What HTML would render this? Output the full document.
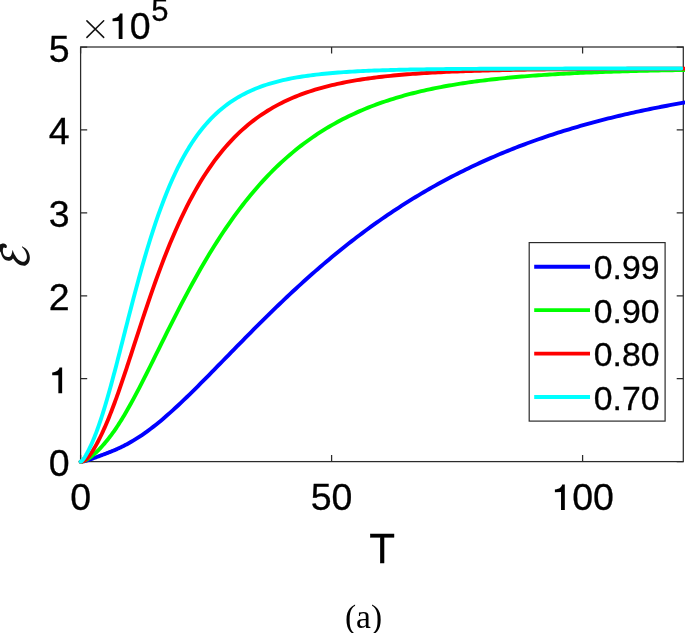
<!DOCTYPE html>
<html><head><meta charset="utf-8"><style>
html,body{margin:0;padding:0;background:#fff;}
body{width:685px;height:633px;overflow:hidden;position:relative;}
svg{position:absolute;left:0;top:0;will-change:transform;}
text{font-family:"Liberation Sans",sans-serif;fill:#000;stroke:#000;stroke-width:0.3px;}
</style></head><body>
<svg width="685" height="633" viewBox="0 0 685 633">
<rect x="80.6" y="47.0" width="602.70" height="414.60" fill="none" stroke="#2b2b2b" stroke-width="1.25"/>
<path d="M80.60,461.6V455.00M80.60,47.0V53.60M331.60,461.6V455.00M331.60,47.0V53.60M582.60,461.6V455.00M582.60,47.0V53.60M80.6,461.60H87.20M683.3,461.60H676.70M80.6,378.68H87.20M683.3,378.68H676.70M80.6,295.76H87.20M683.3,295.76H676.70M80.6,212.84H87.20M683.3,212.84H676.70M80.6,129.92H87.20M683.3,129.92H676.70M80.6,47.00H87.20M683.3,47.00H676.70" stroke="#2b2b2b" stroke-width="1.25" fill="none"/>
<path d="M80.60,461.60 L81.45,461.58 L82.30,461.51 L83.15,461.40 L84.00,461.25 L84.85,461.06 L85.71,460.85 L86.56,460.61 L87.41,460.35 L88.26,460.08 L89.11,459.79 L89.96,459.50 L90.81,459.20 L91.66,458.89 L92.51,458.59 L93.36,458.27 L94.21,457.96 L95.06,457.65 L95.92,457.33 L96.77,457.02 L97.62,456.70 L98.47,456.39 L99.32,456.07 L100.17,455.75 L101.02,455.44 L101.87,455.12 L102.72,454.80 L103.57,454.48 L104.42,454.16 L105.27,453.84 L106.13,453.51 L106.98,453.18 L107.83,452.85 L108.68,452.52 L109.53,452.18 L110.38,451.84 L111.23,451.50 L112.08,451.15 L112.93,450.80 L113.78,450.44 L114.63,450.08 L115.48,449.71 L116.34,449.34 L117.19,448.96 L118.04,448.58 L118.89,448.19 L119.74,447.79 L120.59,447.39 L121.44,446.98 L122.29,446.57 L123.14,446.15 L123.99,445.72 L124.84,445.29 L125.69,444.85 L126.55,444.40 L127.40,443.94 L128.25,443.48 L129.10,443.01 L129.95,442.54 L130.80,442.05 L133.59,440.42 L136.38,438.71 L139.18,436.92 L141.97,435.06 L144.76,433.13 L147.55,431.12 L150.35,429.05 L153.14,426.91 L155.93,424.71 L158.72,422.44 L161.52,420.13 L164.31,417.75 L167.10,415.33 L169.89,412.87 L172.69,410.35 L175.48,407.80 L178.27,405.21 L181.06,402.59 L183.86,399.93 L186.65,397.25 L189.44,394.54 L192.23,391.80 L195.03,389.04 L197.82,386.27 L200.61,383.47 L203.40,380.67 L206.20,377.85 L208.99,375.01 L211.78,372.17 L214.57,369.33 L217.37,366.47 L220.16,363.61 L222.95,360.75 L225.74,357.89 L228.54,355.03 L231.33,352.17 L234.12,349.31 L236.91,346.46 L239.71,343.61 L242.50,340.77 L245.29,337.93 L248.08,335.11 L250.88,332.29 L253.67,329.48 L256.46,326.68 L259.25,323.89 L262.05,321.11 L264.84,318.35 L267.63,315.60 L270.42,312.87 L273.22,310.15 L276.01,307.44 L278.80,304.75 L281.59,302.07 L284.39,299.42 L287.18,296.78 L289.97,294.15 L292.76,291.55 L295.56,288.96 L298.35,286.39 L301.14,283.84 L303.93,281.31 L306.73,278.79 L309.52,276.30 L312.31,273.83 L315.10,271.38 L317.89,268.94 L320.69,266.53 L323.48,264.14 L326.27,261.77 L329.06,259.42 L331.86,257.09 L334.65,254.78 L337.44,252.49 L340.23,250.22 L343.03,247.98 L345.82,245.75 L348.61,243.55 L351.40,241.37 L354.20,239.21 L356.99,237.07 L359.78,234.95 L362.57,232.85 L365.37,230.78 L368.16,228.72 L370.95,226.69 L373.74,224.68 L376.54,222.69 L379.33,220.72 L382.12,218.77 L384.91,216.84 L387.71,214.93 L390.50,213.05 L393.29,211.18 L396.08,209.34 L398.88,207.51 L401.67,205.71 L404.46,203.92 L407.25,202.16 L410.05,200.41 L412.84,198.69 L415.63,196.98 L418.42,195.30 L421.22,193.63 L424.01,191.98 L426.80,190.36 L429.59,188.75 L432.39,187.16 L435.18,185.59 L437.97,184.04 L440.76,182.50 L443.56,180.99 L446.35,179.49 L449.14,178.01 L451.93,176.55 L454.73,175.11 L457.52,173.68 L460.31,172.27 L463.10,170.88 L465.90,169.51 L468.69,168.15 L471.48,166.81 L474.27,165.49 L477.07,164.18 L479.86,162.89 L482.65,161.61 L485.44,160.35 L488.24,159.11 L491.03,157.88 L493.82,156.67 L496.61,155.48 L499.41,154.30 L502.20,153.13 L504.99,151.98 L507.78,150.84 L510.57,149.72 L513.37,148.61 L516.16,147.52 L518.95,146.44 L521.74,145.38 L524.54,144.32 L527.33,143.29 L530.12,142.26 L532.91,141.25 L535.71,140.25 L538.50,139.27 L541.29,138.30 L544.08,137.34 L546.88,136.39 L549.67,135.46 L552.46,134.54 L555.25,133.63 L558.05,132.73 L560.84,131.84 L563.63,130.97 L566.42,130.11 L569.22,129.26 L572.01,128.42 L574.80,127.59 L577.59,126.77 L580.39,125.97 L583.18,125.17 L585.97,124.39 L588.76,123.61 L591.56,122.85 L594.35,122.10 L597.14,121.35 L599.93,120.62 L602.73,119.90 L605.52,119.18 L608.31,118.48 L611.10,117.78 L613.90,117.10 L616.69,116.42 L619.48,115.76 L622.27,115.10 L625.07,114.45 L627.86,113.81 L630.65,113.18 L633.44,112.56 L636.24,111.94 L639.03,111.34 L641.82,110.74 L644.61,110.15 L647.41,109.57 L650.20,109.00 L652.99,108.43 L655.78,107.87 L658.58,107.32 L661.37,106.78 L664.16,106.25 L666.95,105.72 L669.75,105.20 L672.54,104.69 L675.33,104.18 L678.12,103.68 L680.92,103.19 L683.71,102.70 L686.50,102.22" fill="none" stroke="#0000ff" stroke-width="3.9" stroke-linejoin="round" stroke-linecap="round"/>
<path d="M80.60,461.60 L81.45,461.57 L82.30,461.46 L83.15,461.26 L84.00,460.99 L84.85,460.64 L85.71,460.24 L86.56,459.78 L87.41,459.28 L88.26,458.73 L89.11,458.15 L89.96,457.53 L90.81,456.89 L91.66,456.22 L92.51,455.52 L93.36,454.80 L94.21,454.06 L95.06,453.30 L95.92,452.51 L96.77,451.71 L97.62,450.89 L98.47,450.05 L99.32,449.18 L100.17,448.30 L101.02,447.40 L101.87,446.48 L102.72,445.54 L103.57,444.58 L104.42,443.60 L105.27,442.60 L106.13,441.58 L106.98,440.54 L107.83,439.49 L108.68,438.41 L109.53,437.31 L110.38,436.19 L111.23,435.05 L112.08,433.89 L112.93,432.71 L113.78,431.51 L114.63,430.29 L115.48,429.05 L116.34,427.79 L117.19,426.51 L118.04,425.22 L118.89,423.90 L119.74,422.57 L120.59,421.22 L121.44,419.85 L122.29,418.47 L123.14,417.07 L123.99,415.65 L124.84,414.22 L125.69,412.77 L126.55,411.30 L127.40,409.82 L128.25,408.33 L129.10,406.82 L129.95,405.30 L130.80,403.77 L133.59,398.65 L136.38,393.41 L139.18,388.07 L141.97,382.65 L144.76,377.15 L147.55,371.60 L150.35,366.00 L153.14,360.37 L155.93,354.73 L158.72,349.07 L161.52,343.43 L164.31,337.79 L167.10,332.18 L169.89,326.60 L172.69,321.05 L175.48,315.55 L178.27,310.10 L181.06,304.70 L183.86,299.37 L186.65,294.09 L189.44,288.89 L192.23,283.76 L195.03,278.70 L197.82,273.71 L200.61,268.81 L203.40,263.98 L206.20,259.24 L208.99,254.57 L211.78,250.00 L214.57,245.50 L217.37,241.09 L220.16,236.77 L222.95,232.53 L225.74,228.37 L228.54,224.31 L231.33,220.32 L234.12,216.42 L236.91,212.60 L239.71,208.87 L242.50,205.22 L245.29,201.65 L248.08,198.16 L250.88,194.75 L253.67,191.42 L256.46,188.16 L259.25,184.98 L262.05,181.88 L264.84,178.85 L267.63,175.90 L270.42,173.01 L273.22,170.20 L276.01,167.46 L278.80,164.78 L281.59,162.17 L284.39,159.62 L287.18,157.14 L289.97,154.73 L292.76,152.37 L295.56,150.08 L298.35,147.84 L301.14,145.66 L303.93,143.54 L306.73,141.47 L309.52,139.46 L312.31,137.50 L315.10,135.59 L317.89,133.73 L320.69,131.92 L323.48,130.16 L326.27,128.45 L329.06,126.78 L331.86,125.16 L334.65,123.58 L337.44,122.04 L340.23,120.54 L343.03,119.09 L345.82,117.67 L348.61,116.30 L351.40,114.96 L354.20,113.65 L356.99,112.39 L359.78,111.15 L362.57,109.95 L365.37,108.79 L368.16,107.66 L370.95,106.55 L373.74,105.48 L376.54,104.44 L379.33,103.43 L382.12,102.44 L384.91,101.48 L387.71,100.55 L390.50,99.65 L393.29,98.77 L396.08,97.91 L398.88,97.08 L401.67,96.27 L404.46,95.49 L407.25,94.72 L410.05,93.98 L412.84,93.26 L415.63,92.56 L418.42,91.88 L421.22,91.21 L424.01,90.57 L426.80,89.94 L429.59,89.34 L432.39,88.74 L435.18,88.17 L437.97,87.61 L440.76,87.07 L443.56,86.54 L446.35,86.03 L449.14,85.53 L451.93,85.05 L454.73,84.58 L457.52,84.12 L460.31,83.68 L463.10,83.25 L465.90,82.83 L468.69,82.42 L471.48,82.03 L474.27,81.65 L477.07,81.27 L479.86,80.91 L482.65,80.56 L485.44,80.22 L488.24,79.88 L491.03,79.56 L493.82,79.25 L496.61,78.94 L499.41,78.64 L502.20,78.36 L504.99,78.08 L507.78,77.80 L510.57,77.54 L513.37,77.28 L516.16,77.03 L518.95,76.79 L521.74,76.56 L524.54,76.33 L527.33,76.11 L530.12,75.89 L532.91,75.68 L535.71,75.48 L538.50,75.28 L541.29,75.09 L544.08,74.90 L546.88,74.72 L549.67,74.54 L552.46,74.37 L555.25,74.20 L558.05,74.04 L560.84,73.89 L563.63,73.73 L566.42,73.59 L569.22,73.44 L572.01,73.30 L574.80,73.17 L577.59,73.03 L580.39,72.90 L583.18,72.78 L585.97,72.66 L588.76,72.54 L591.56,72.43 L594.35,72.32 L597.14,72.21 L599.93,72.10 L602.73,72.00 L605.52,71.90 L608.31,71.81 L611.10,71.71 L613.90,71.62 L616.69,71.53 L619.48,71.45 L622.27,71.36 L625.07,71.28 L627.86,71.20 L630.65,71.13 L633.44,71.05 L636.24,70.98 L639.03,70.91 L641.82,70.84 L644.61,70.78 L647.41,70.71 L650.20,70.65 L652.99,70.59 L655.78,70.53 L658.58,70.47 L661.37,70.42 L664.16,70.36 L666.95,70.31 L669.75,70.26 L672.54,70.21 L675.33,70.16 L678.12,70.12 L680.92,70.07 L683.71,70.03 L686.50,69.98" fill="none" stroke="#00ff00" stroke-width="3.9" stroke-linejoin="round" stroke-linecap="round"/>
<path d="M80.60,461.60 L81.45,461.58 L82.30,461.47 L83.15,461.24 L84.00,460.86 L84.85,460.34 L85.71,459.69 L86.56,458.92 L87.41,458.05 L88.26,457.08 L89.11,456.02 L89.96,454.90 L90.81,453.70 L91.66,452.44 L92.51,451.13 L93.36,449.76 L94.21,448.35 L95.06,446.89 L95.92,445.38 L96.77,443.84 L97.62,442.25 L98.47,440.62 L99.32,438.96 L100.17,437.25 L101.02,435.50 L101.87,433.72 L102.72,431.90 L103.57,430.04 L104.42,428.15 L105.27,426.22 L106.13,424.25 L106.98,422.25 L107.83,420.21 L108.68,418.14 L109.53,416.03 L110.38,413.89 L111.23,411.72 L112.08,409.52 L112.93,407.28 L113.78,405.02 L114.63,402.73 L115.48,400.40 L116.34,398.06 L117.19,395.69 L118.04,393.29 L118.89,390.87 L119.74,388.43 L120.59,385.97 L121.44,383.48 L122.29,380.99 L123.14,378.47 L123.99,375.94 L124.84,373.39 L125.69,370.83 L126.55,368.26 L127.40,365.68 L128.25,363.09 L129.10,360.50 L129.95,357.89 L130.80,355.28 L133.59,346.69 L136.38,338.09 L139.18,329.52 L141.97,321.01 L144.76,312.59 L147.55,304.28 L150.35,296.11 L153.14,288.09 L155.93,280.24 L158.72,272.56 L161.52,265.08 L164.31,257.79 L167.10,250.71 L169.89,243.83 L172.69,237.16 L175.48,230.70 L178.27,224.44 L181.06,218.40 L183.86,212.56 L186.65,206.92 L189.44,201.48 L192.23,196.23 L195.03,191.17 L197.82,186.30 L200.61,181.62 L203.40,177.10 L206.20,172.76 L208.99,168.59 L211.78,164.58 L214.57,160.72 L217.37,157.01 L220.16,153.45 L222.95,150.03 L225.74,146.75 L228.54,143.60 L231.33,140.57 L234.12,137.66 L236.91,134.87 L239.71,132.20 L242.50,129.63 L245.29,127.17 L248.08,124.81 L250.88,122.54 L253.67,120.36 L256.46,118.28 L259.25,116.28 L262.05,114.36 L264.84,112.52 L267.63,110.75 L270.42,109.06 L273.22,107.43 L276.01,105.88 L278.80,104.38 L281.59,102.95 L284.39,101.58 L287.18,100.26 L289.97,99.00 L292.76,97.78 L295.56,96.62 L298.35,95.51 L301.14,94.44 L303.93,93.41 L306.73,92.43 L309.52,91.48 L312.31,90.58 L315.10,89.71 L317.89,88.87 L320.69,88.07 L323.48,87.31 L326.27,86.57 L329.06,85.86 L331.86,85.19 L334.65,84.53 L337.44,83.91 L340.23,83.31 L343.03,82.74 L345.82,82.18 L348.61,81.65 L351.40,81.14 L354.20,80.66 L356.99,80.19 L359.78,79.74 L362.57,79.30 L365.37,78.89 L368.16,78.49 L370.95,78.11 L373.74,77.74 L376.54,77.39 L379.33,77.05 L382.12,76.72 L384.91,76.41 L387.71,76.11 L390.50,75.82 L393.29,75.54 L396.08,75.28 L398.88,75.02 L401.67,74.77 L404.46,74.54 L407.25,74.31 L410.05,74.09 L412.84,73.88 L415.63,73.68 L418.42,73.48 L421.22,73.30 L424.01,73.12 L426.80,72.95 L429.59,72.78 L432.39,72.62 L435.18,72.47 L437.97,72.32 L440.76,72.18 L443.56,72.04 L446.35,71.91 L449.14,71.79 L451.93,71.66 L454.73,71.55 L457.52,71.44 L460.31,71.33 L463.10,71.22 L465.90,71.12 L468.69,71.03 L471.48,70.94 L474.27,70.85 L477.07,70.76 L479.86,70.68 L482.65,70.60 L485.44,70.52 L488.24,70.45 L491.03,70.38 L493.82,70.31 L496.61,70.24 L499.41,70.18 L502.20,70.12 L504.99,70.06 L507.78,70.01 L510.57,69.95 L513.37,69.90 L516.16,69.85 L518.95,69.80 L521.74,69.75 L524.54,69.71 L527.33,69.67 L530.12,69.62 L532.91,69.58 L535.71,69.55 L538.50,69.51 L541.29,69.47 L544.08,69.44 L546.88,69.40 L549.67,69.37 L552.46,69.34 L555.25,69.31 L558.05,69.28 L560.84,69.26 L563.63,69.23 L566.42,69.20 L569.22,69.18 L572.01,69.15 L574.80,69.13 L577.59,69.11 L580.39,69.09 L583.18,69.07 L585.97,69.05 L588.76,69.03 L591.56,69.01 L594.35,68.99 L597.14,68.97 L599.93,68.96 L602.73,68.94 L605.52,68.93 L608.31,68.91 L611.10,68.90 L613.90,68.88 L616.69,68.87 L619.48,68.86 L622.27,68.85 L625.07,68.83 L627.86,68.82 L630.65,68.81 L633.44,68.80 L636.24,68.79 L639.03,68.78 L641.82,68.77 L644.61,68.76 L647.41,68.75 L650.20,68.74 L652.99,68.74 L655.78,68.73 L658.58,68.72 L661.37,68.71 L664.16,68.70 L666.95,68.70 L669.75,68.69 L672.54,68.68 L675.33,68.68 L678.12,68.67 L680.92,68.67 L683.71,68.66 L686.50,68.66" fill="none" stroke="#ff0000" stroke-width="3.9" stroke-linejoin="round" stroke-linecap="round"/>
<path d="M80.60,461.60 L81.45,461.25 L82.30,460.47 L83.15,459.44 L84.00,458.26 L84.85,456.95 L85.71,455.55 L86.56,454.07 L87.41,452.51 L88.26,450.89 L89.11,449.20 L89.96,447.44 L90.81,445.62 L91.66,443.73 L92.51,441.78 L93.36,439.77 L94.21,437.69 L95.06,435.56 L95.92,433.35 L96.77,431.09 L97.62,428.77 L98.47,426.38 L99.32,423.94 L100.17,421.44 L101.02,418.88 L101.87,416.27 L102.72,413.60 L103.57,410.88 L104.42,408.11 L105.27,405.29 L106.13,402.42 L106.98,399.51 L107.83,396.56 L108.68,393.57 L109.53,390.53 L110.38,387.46 L111.23,384.36 L112.08,381.23 L112.93,378.06 L113.78,374.87 L114.63,371.65 L115.48,368.42 L116.34,365.16 L117.19,361.88 L118.04,358.58 L118.89,355.28 L119.74,351.96 L120.59,348.63 L121.44,345.29 L122.29,341.95 L123.14,338.61 L123.99,335.26 L124.84,331.92 L125.69,328.57 L126.55,325.23 L127.40,321.90 L128.25,318.57 L129.10,315.26 L129.95,311.95 L130.80,308.66 L133.57,298.05 L136.33,287.63 L139.10,277.44 L141.87,267.51 L144.63,257.86 L147.40,248.52 L150.16,239.50 L152.93,230.82 L155.70,222.47 L158.46,214.46 L161.23,206.79 L164.00,199.47 L166.76,192.48 L169.53,185.82 L172.29,179.48 L175.06,173.45 L177.83,167.72 L180.59,162.29 L183.36,157.14 L186.13,152.25 L188.89,147.63 L191.66,143.26 L194.43,139.12 L197.19,135.20 L199.96,131.50 L202.72,128.01 L205.49,124.71 L208.26,121.59 L211.02,118.64 L213.79,115.86 L216.56,113.24 L219.32,110.77 L222.09,108.43 L224.86,106.22 L227.62,104.14 L230.39,102.18 L233.15,100.33 L235.92,98.58 L238.69,96.93 L241.45,95.38 L244.22,93.91 L246.99,92.52 L249.75,91.21 L252.52,89.98 L255.28,88.82 L258.05,87.72 L260.82,86.68 L263.58,85.70 L266.35,84.77 L269.12,83.90 L271.88,83.08 L274.65,82.30 L277.42,81.56 L280.18,80.87 L282.95,80.21 L285.71,79.59 L288.48,79.00 L291.25,78.45 L294.01,77.93 L296.78,77.43 L299.55,76.96 L302.31,76.52 L305.08,76.10 L307.85,75.71 L310.61,75.33 L313.38,74.98 L316.14,74.64 L318.91,74.32 L321.68,74.02 L324.44,73.74 L327.21,73.47 L329.98,73.22 L332.74,72.98 L335.51,72.75 L338.27,72.53 L341.04,72.33 L343.81,72.13 L346.57,71.95 L349.34,71.77 L352.11,71.61 L354.87,71.45 L357.64,71.31 L360.41,71.16 L363.17,71.03 L365.94,70.90 L368.70,70.79 L371.47,70.67 L374.24,70.56 L377.00,70.46 L379.77,70.36 L382.54,70.27 L385.30,70.19 L388.07,70.10 L390.84,70.02 L393.60,69.95 L396.37,69.88 L399.13,69.81 L401.90,69.75 L404.67,69.69 L407.43,69.63 L410.20,69.57 L412.97,69.52 L415.73,69.47 L418.50,69.43 L421.26,69.38 L424.03,69.34 L426.80,69.30 L429.56,69.26 L432.33,69.22 L435.10,69.19 L437.86,69.16 L440.63,69.13 L443.40,69.10 L446.16,69.07 L448.93,69.04 L451.69,69.01 L454.46,68.99 L457.23,68.97 L459.99,68.95 L462.76,68.92 L465.53,68.90 L468.29,68.89 L471.06,68.87 L473.83,68.85 L476.59,68.83 L479.36,68.82 L482.12,68.80 L484.89,68.79 L487.66,68.78 L490.42,68.76 L493.19,68.75 L495.96,68.74 L498.72,68.73 L501.49,68.72 L504.25,68.71 L507.02,68.70 L509.79,68.69 L512.55,68.68 L515.32,68.67 L518.09,68.66 L520.85,68.66 L523.62,68.65 L526.39,68.64 L529.15,68.64 L531.92,68.63 L534.68,68.62 L537.45,68.62 L540.22,68.61 L542.98,68.61 L545.75,68.60 L548.52,68.60 L551.28,68.59 L554.05,68.59 L556.82,68.59 L559.58,68.58 L562.35,68.58 L565.11,68.57 L567.88,68.57 L570.65,68.57 L573.41,68.57 L576.18,68.56 L578.95,68.56 L581.71,68.56 L584.48,68.55 L587.24,68.55 L590.01,68.55 L592.78,68.55 L595.54,68.55 L598.31,68.54 L601.08,68.54 L603.84,68.54 L606.61,68.54 L609.38,68.54 L612.14,68.53 L614.91,68.53 L617.67,68.53 L620.44,68.53 L623.21,68.53 L625.97,68.53 L628.74,68.53 L631.51,68.53 L634.27,68.52 L637.04,68.52 L639.81,68.52 L642.57,68.52 L645.34,68.52 L648.10,68.52 L650.87,68.52 L653.64,68.52 L656.40,68.52 L659.17,68.52 L661.94,68.52 L664.70,68.51 L667.47,68.51 L670.23,68.51 L673.00,68.51 L675.77,68.51 L678.53,68.51 L681.30,68.51" fill="none" stroke="#00ffff" stroke-width="3.9" stroke-linejoin="round" stroke-linecap="round"/>
<text transform="translate(48.65,476.10) scale(1,1.0)" style="font-size:37.5px">0</text>
<text transform="translate(48.65,310.26) scale(1,1.0)" style="font-size:37.5px">2</text>
<text transform="translate(48.65,227.34) scale(1,1.0)" style="font-size:37.5px">3</text>
<text transform="translate(48.65,144.42) scale(1,1.0)" style="font-size:37.5px">4</text>
<text transform="translate(48.65,61.50) scale(1,1.0)" style="font-size:37.5px">5</text>
<text transform="translate(70.17,510.10) scale(1,1.0)" style="font-size:37.5px">0</text>
<text transform="translate(310.75,510.10) scale(1,1.0)" style="font-size:37.5px">50</text>
<text transform="translate(572.17,510.10) scale(1,1.0)" style="font-size:37.5px">00</text>
<path d="M86.9,20.9 L103.7,37.4 M103.7,20.8 L86.9,37.4" stroke="#111" stroke-width="1.5" stroke-linecap="round" fill="none"/>
<text transform="translate(129.85,39.10) scale(1,1.0)" style="font-size:37.5px">0</text>
<text transform="translate(151.20,21.00) scale(1,1.0)" style="font-size:31px">5</text>
<text transform="translate(382.20,562.80) scale(1,1.0)" style="font-size:42.2px" text-anchor="middle">T</text>
<rect x="529.2" y="242.6" width="135.9" height="178.5" fill="#fff" stroke="#2b2b2b" stroke-width="1.2"/>
<path d="M534.2,266.70H590" stroke="#0000ff" stroke-width="3.9"/>
<text transform="translate(593.80,279.40) scale(1,1.0)" style="font-size:33.75px">0.99</text>
<path d="M534.2,310.15H590" stroke="#00ff00" stroke-width="3.9"/>
<text transform="translate(593.80,322.85) scale(1,1.0)" style="font-size:33.75px">0.90</text>
<path d="M534.2,353.60H590" stroke="#ff0000" stroke-width="3.9"/>
<text transform="translate(593.80,366.30) scale(1,1.0)" style="font-size:33.75px">0.80</text>
<path d="M534.2,397.05H590" stroke="#00ffff" stroke-width="3.9"/>
<text transform="translate(593.80,409.75) scale(1,1.0)" style="font-size:33.75px">0.70</text>
<path d="M-0.60,245.20C-0.28,244.13 0.60,244.17 1.30,243.90C2.00,243.63 2.88,243.55 3.60,243.60C4.32,243.65 5.07,243.83 5.60,244.20C6.13,244.57 6.65,245.22 6.80,245.80C6.95,246.38 6.75,247.32 6.50,247.70C6.25,248.08 5.68,248.12 5.30,248.10C4.92,248.08 4.53,247.62 4.20,247.60C3.87,247.58 3.52,247.67 3.30,248.00C3.08,248.33 2.97,249.02 2.90,249.60C2.83,250.18 2.82,250.77 2.90,251.50C2.98,252.23 3.08,253.27 3.40,254.00C3.72,254.73 4.23,255.43 4.80,255.90C5.37,256.37 6.13,256.62 6.80,256.80C7.47,256.98 8.15,257.13 8.80,257.00C9.45,256.87 10.22,256.53 10.70,256.00C11.18,255.47 11.43,254.60 11.70,253.80C11.97,253.00 12.15,251.83 12.30,251.20C12.45,250.57 12.45,249.93 12.60,250.00C12.75,250.07 12.97,251.00 13.20,251.60C13.43,252.20 13.67,252.93 14.00,253.60C14.33,254.27 14.68,254.80 15.20,255.60C15.72,256.40 16.37,257.57 17.10,258.40C17.83,259.23 18.73,260.03 19.60,260.60C20.47,261.17 21.47,261.65 22.30,261.80C23.13,261.95 23.95,261.83 24.60,261.50C25.25,261.17 25.82,260.52 26.20,259.80C26.58,259.08 26.85,258.13 26.90,257.20C26.95,256.27 26.77,255.18 26.50,254.20C26.23,253.22 25.75,252.17 25.30,251.30C24.85,250.43 24.33,249.67 23.80,249.00C23.27,248.33 22.37,247.70 22.10,247.30C21.83,246.90 22.02,246.67 22.20,246.60C22.38,246.53 22.73,246.67 23.20,246.90C23.67,247.13 24.32,247.43 25.00,248.00C25.68,248.57 26.63,249.40 27.30,250.30C27.97,251.20 28.58,252.28 29.00,253.40C29.42,254.52 29.72,255.80 29.80,257.00C29.88,258.20 29.78,259.50 29.50,260.60C29.22,261.70 28.75,262.80 28.10,263.60C27.45,264.40 26.53,265.07 25.60,265.40C24.67,265.73 23.53,265.72 22.50,265.60C21.47,265.48 20.42,265.20 19.40,264.70C18.38,264.20 17.27,263.38 16.40,262.60C15.53,261.82 14.77,260.67 14.20,260.00C13.63,259.33 13.40,258.63 13.00,258.60C12.60,258.57 12.27,259.47 11.80,259.80C11.33,260.13 10.78,260.43 10.20,260.60C9.62,260.77 9.00,260.85 8.30,260.80C7.60,260.75 6.72,260.62 6.00,260.30C5.28,259.98 4.58,259.47 4.00,258.90C3.42,258.33 2.93,257.63 2.50,256.90C2.07,256.17 1.70,255.28 1.40,254.50C1.10,253.72 1.03,252.90 0.70,252.20C0.37,251.50 -0.38,251.47 -0.60,250.30C-0.82,249.13 -0.92,246.27 -0.60,245.20Z" fill="#111"/>
<path d="M58.36,393.18L62.15,393.18L62.15,367.49L59.52,367.49C58.85,370.12 57.09,371.95 52.21,372.48L52.21,375.25L58.36,375.18ZM561.04,510.10L564.82,510.10L564.82,484.41L562.20,484.41C561.52,487.04 559.76,488.88 554.89,489.40L554.89,492.18L561.04,492.10ZM118.71,39.10L122.50,39.10L122.50,13.41L119.88,13.41C119.20,16.04 117.44,17.88 112.56,18.40L112.56,21.18L118.71,21.10Z" fill="#000"/>
<text x="363.5" y="628.2" text-anchor="middle" style="font-family:'Liberation Serif',serif;font-size:33.5px;stroke:none">(a)</text>
</svg>
</body></html>
